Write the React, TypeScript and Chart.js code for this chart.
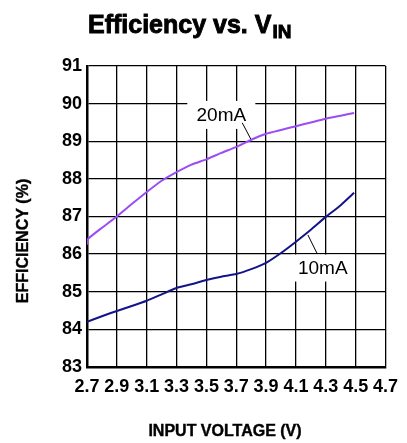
import React, { useEffect, useRef } from "react";
import { Chart, registerables } from "chart.js";

Chart.register(...registerables);

const xTicks = [2.7, 2.9, 3.1, 3.3, 3.5, 3.7, 3.9, 4.1, 4.3, 4.5, 4.7];
const yTicks = [83, 84, 85, 86, 87, 88, 89, 90, 91];

const vin20 = [2.7, 2.7, 2.8, 2.9, 3.0, 3.1, 3.2, 3.3, 3.4, 3.5, 3.6, 3.7, 3.8, 3.9, 4.0, 4.1, 4.2, 4.3, 4.4, 4.49];
const eff20 = [86.25, 86.38, 86.7, 87.0, 87.33, 87.65, 87.95, 88.18, 88.38, 88.52, 88.69, 88.85, 89.04, 89.2, 89.3, 89.4, 89.5, 89.6, 89.68, 89.75];

const vin10 = [2.7, 2.8, 2.9, 3.0, 3.1, 3.2, 3.3, 3.4, 3.5, 3.6, 3.7, 3.8, 3.9, 4.0, 4.1, 4.2, 4.3, 4.4, 4.49];
const eff10 = [84.2, 84.35, 84.49, 84.62, 84.76, 84.93, 85.1, 85.2, 85.31, 85.4, 85.47, 85.6, 85.77, 86.03, 86.33, 86.65, 86.99, 87.3, 87.63];

const FONT = "'Liberation Sans', Arial, sans-serif";

const decorPlugin = {
  id: "decor",
  beforeDatasetsDraw(chart: any) {
    const ctx = chart.ctx;
    const x = chart.scales.x;
    const y = chart.scales.y;
    const labels = [
      { text: "20mA", cx: 3.6, cy: 89.7, w: 68, h: 28, l: [3.74, 89.49, 3.8, 89.04] },
      { text: "10mA", cx: 4.28, cy: 85.63, w: 62, h: 27, l: [4.18, 86.51, 4.24, 86.03] },
    ];
    ctx.save();
    for (const lb of labels) {
      const px = x.getPixelForValue(lb.cx);
      const py = y.getPixelForValue(lb.cy);
      ctx.fillStyle = "#fff";
      ctx.fillRect(px - lb.w / 2, py - lb.h / 2, lb.w, lb.h);
      ctx.fillStyle = "#000";
      ctx.font = `19px ${FONT}`;
      ctx.textAlign = "center";
      ctx.textBaseline = "middle";
      ctx.fillText(lb.text, px, py + 1);
      ctx.strokeStyle = "#000";
      ctx.lineWidth = 1;
      ctx.beginPath();
      ctx.moveTo(x.getPixelForValue(lb.l[0]), y.getPixelForValue(lb.l[1]));
      ctx.lineTo(x.getPixelForValue(lb.l[2]), y.getPixelForValue(lb.l[3]));
      ctx.stroke();
    }
    ctx.restore();
  },
  afterDraw(chart: any) {
    const ctx = chart.ctx;
    ctx.save();
    ctx.fillStyle = "#000";
    ctx.textBaseline = "alphabetic";
    ctx.textAlign = "left";
    ctx.font = `bold 25px ${FONT}`;
    const main = "Efficiency vs. V";
    ctx.lineWidth = 0.9;
    ctx.strokeStyle = "#000";
    ctx.fillText(main, 88, 33);
    ctx.strokeText(main, 88, 33);
    const w = ctx.measureText(main).width;
    ctx.font = `bold 19px ${FONT}`;
    ctx.fillText("IN", 88 + w + 1, 38);
    ctx.strokeText("IN", 88 + w + 1, 38);

    ctx.font = `bold 16px ${FONT}`;
    ctx.textAlign = "center";
    ctx.textBaseline = "middle";
    ctx.lineWidth = 0.4;
    ctx.fillText("INPUT VOLTAGE (V)", 225, 432);
    ctx.strokeText("INPUT VOLTAGE (V)", 225, 432);
    ctx.translate(24, 241);
    ctx.rotate(-Math.PI / 2);
    ctx.fillText("EFFICIENCY (%)", 0, 0);
    ctx.strokeText("EFFICIENCY (%)", 0, 0);
    ctx.restore();
  },
};

export default function App() {
  const ref = useRef<HTMLCanvasElement>(null);
  useEffect(() => {
    if (!ref.current) return;
    const chart = new Chart(ref.current, {
      type: "line",
      data: {
        datasets: [
          {
            label: "20mA",
            data: vin20.map((v, i) => ({ x: v, y: eff20[i] })),
            borderColor: "#9b4cf5",
            borderWidth: 2,
            pointRadius: 0,
            tension: 0.15,
          },
          {
            label: "10mA",
            data: vin10.map((v, i) => ({ x: v, y: eff10[i] })),
            borderColor: "#14148a",
            borderWidth: 2,
            pointRadius: 0,
            tension: 0.15,
          },
        ],
      },
      options: {
        responsive: false,
        animation: false,
        layout: { padding: { left: 57, right: 18, top: 66, bottom: 46 } },
        plugins: { legend: { display: false }, tooltip: { enabled: false }, title: { display: false } },
        scales: {
          x: {
            type: "linear",
            min: 2.7,
            max: 4.7,
            afterBuildTicks: (s: any) => {
              s.ticks = xTicks.map((v) => ({ value: v }));
            },
            afterFit: (s: any) => {
              s.height = 30;
            },
            grid: { color: "#000", lineWidth: 1.3, drawTicks: false },
            border: { color: "#000", width: 2.5 },
            ticks: {
              color: "#000",
              padding: 9,
              maxRotation: 0,
              autoSkip: false,
              font: { family: FONT, size: 18, weight: "bold" },
              callback: (v: any) => Number(v).toFixed(1),
            },
          },
          y: {
            type: "linear",
            min: 83,
            max: 91,
            afterBuildTicks: (s: any) => {
              s.ticks = yTicks.map((v) => ({ value: v }));
            },
            afterFit: (s: any) => {
              s.width = 30;
            },
            grid: { color: "#000", lineWidth: 1.3, drawTicks: false },
            border: { color: "#000", width: 2.5 },
            ticks: {
              color: "#000",
              padding: 5,
              autoSkip: false,
              font: { family: FONT, size: 18, weight: "bold" },
            },
          },
        },
      },
      plugins: [decorPlugin],
    });
    return () => chart.destroy();
  }, []);
  return (
    <div style={{ position: "fixed", left: 0, top: 0, width: 407, height: 443, background: "#fff" }}>
      <canvas ref={ref} width={407} height={443} />
    </div>
  );
}
